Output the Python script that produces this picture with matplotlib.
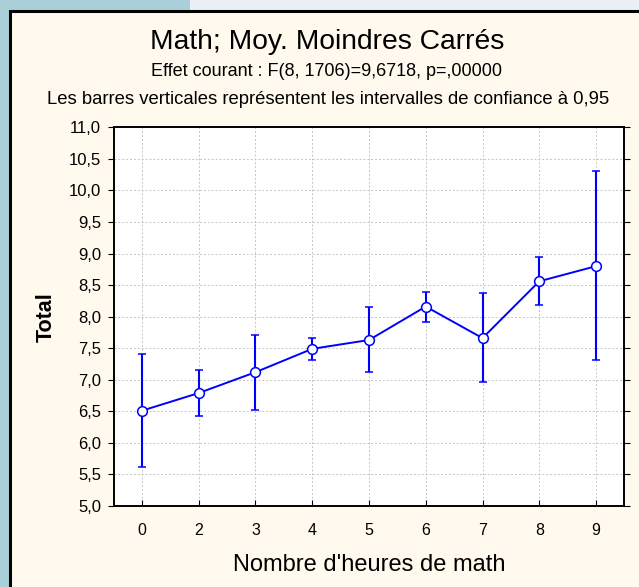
import matplotlib
matplotlib.use('Agg')
import matplotlib.pyplot as plt
from matplotlib.patches import Rectangle
import numpy as np

plt.rcParams['font.family'] = ['Liberation Sans', 'DejaVu Sans']

heures = ['0', '2', '3', '4', '5', '6', '7', '8', '9']
moyenne = [6.51, 6.79, 7.12, 7.49, 7.63, 8.16, 7.66, 8.56, 8.80]
ic_haut = [7.41, 7.16, 7.71, 7.66, 8.16, 8.39, 8.37, 8.94, 10.31]
ic_bas = [5.61, 6.43, 6.52, 7.31, 7.12, 7.92, 6.96, 8.18, 7.31]
yticks = np.arange(5.0, 11.01, 0.5)

W, H = 639, 587
fig = plt.figure(figsize=(W / 100, H / 100), dpi=100, facecolor='#A9D0D8')

# fond : bande claire en haut, panneau crème avec bord noir
fig.patches.append(Rectangle((190 / W, 1 - 11 / H), 1, 11 / H, transform=fig.transFigure,
                             facecolor='#E9EFF3', edgecolor='none', zorder=-2))
fig.patches.append(Rectangle((10 / W, -0.05), 1.1, 1.05 - 10.5 / H, transform=fig.transFigure,
                             facecolor='#FFF9EE', edgecolor='black', linewidth=2.2, zorder=-1))

ax = fig.add_axes([113.6 / W, 1 - 506 / H, (624.4 - 113.6) / W, (506 - 127.3) / H])
ax.set_facecolor('white')

x = np.arange(len(heures))
m = np.array(moyenne)
err = [m - np.array(ic_bas), np.array(ic_haut) - m]
ax.errorbar(x, m, yerr=err, color='#0000FF', lw=1.4, elinewidth=1.5, capsize=2.8, capthick=1.5,
            marker='o', markersize=7, markerfacecolor='white', markeredgecolor='#0000FF',
            markeredgewidth=1.1, zorder=3)

ax.set_xlim(-0.5, len(heures) - 0.5)
ax.set_ylim(5.0, 11.0)
ax.set_xticks(x)
ax.set_xticklabels(heures)
ax.set_yticks(yticks)
ax.set_yticklabels([f'{v:.1f}'.replace('.', ',') for v in yticks])
ax.grid(True, color='#C4C4C4', linestyle=(0, (2, 2)), linewidth=0.7)
ax.set_axisbelow(True)
ax.tick_params(axis='x', direction='in', length=4, labelsize=11.5, pad=12, colors='black')
ax.tick_params(axis='y', direction='out', length=4, labelsize=12, pad=5, right=True)
for s in ax.spines.values():
    s.set_linewidth(1.4)

ax.set_xlabel("Nombre d'heures de math", fontsize=17, labelpad=12)
ax.set_ylabel('Total', fontsize=15.5, fontweight='bold', labelpad=9)

fig.text(327 / W, 1 - 42 / H, 'Math; Moy. Moindres Carrés', ha='center', va='center', fontsize=20.3)
fig.text(327 / W, 1 - 72 / H, 'Effet courant : F(8, 1706)=9,6718, p=,00000', ha='center',
         va='center', fontsize=13)
fig.text(328 / W, 1 - 100 / H,
         'Les barres verticales représentent les intervalles de confiance à 0,95',
         ha='center', va='center', fontsize=13.3)

fig.savefig('out.png', dpi=100, facecolor=fig.get_facecolor())
